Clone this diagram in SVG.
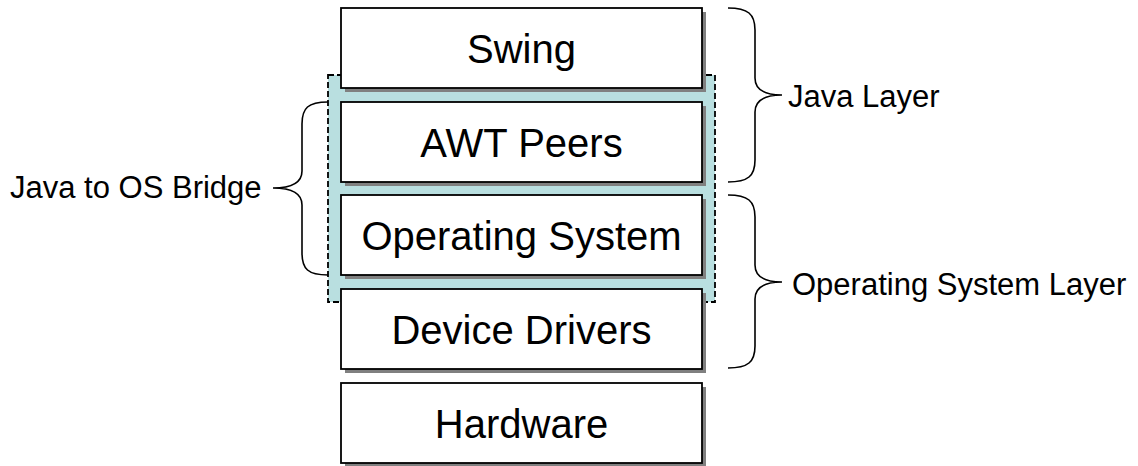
<svg xmlns="http://www.w3.org/2000/svg" width="1138" height="466" viewBox="0 0 1138 466">
<style>
.box{fill:#fff;stroke:#000;stroke-width:1.8}
.shd{fill:#808080}
.bt{font-family:"Liberation Sans",Arial,sans-serif;font-size:40px;text-anchor:middle;fill:#000}
.lt{font-family:"Liberation Sans",Arial,sans-serif;font-size:31px;fill:#000}
.brace{fill:none;stroke:#000;stroke-width:1.6}
</style>
<rect width="1138" height="466" fill="#fff"/>
<g id="bridge-region">
<rect x="328" y="75" width="387" height="227" fill="#b9dfe0" stroke="#000" stroke-width="1.8" stroke-dasharray="6,3"/>
</g>
<g id="swing">
<rect class="shd" x="345" y="12" width="361" height="80"/>
<rect class="box" x="341" y="8" width="361" height="80"/>
<text class="bt" x="521.5" y="63">Swing</text>
</g>
<g id="awt-peers">
<rect class="shd" x="345" y="106" width="361" height="80"/>
<rect class="box" x="341" y="102" width="361" height="80"/>
<text class="bt" x="521.5" y="157">AWT Peers</text>
</g>
<g id="operating-system">
<rect class="shd" x="345" y="199" width="361" height="80"/>
<rect class="box" x="341" y="195" width="361" height="80"/>
<text class="bt" x="521.5" y="250">Operating System</text>
</g>
<g id="device-drivers">
<rect class="shd" x="345" y="293" width="361" height="80"/>
<rect class="box" x="341" y="289" width="361" height="80"/>
<text class="bt" x="521.5" y="344">Device Drivers</text>
</g>
<g id="hardware">
<rect class="shd" x="345" y="387" width="361" height="80"/>
<rect class="box" x="341" y="383" width="361" height="80"/>
<text class="bt" x="521.5" y="438">Hardware</text>
</g>
<g id="connectors">
<path class="brace" d="M728,8 C748,8 755,14 755,30 L755,78 C755,90 765,95 782,95 C765,95 755,100 755,112 L755,160 C755,176 748,182 728,182"/>
<path class="brace" d="M728,195 C748,195 755,201 755,217 L755,265 C755,277 765,282 782,282 C765,282 755,287 755,299 L755,346 C755,362 748,368 728,368"/>
<path class="brace" d="M328,102 C308,102 302,108 302,124 L302,171 C302,183 292,188 273,188 C292,188 302,193 302,205 L302,253 C302,269 308,275 328,275"/>
</g>
<g id="label-java-layer"><text class="lt" x="788" y="107">Java Layer</text></g>
<g id="label-os-layer"><text class="lt" x="792" y="295">Operating System Layer</text></g>
<g id="label-bridge"><text class="lt" x="10" y="198">Java to OS Bridge</text></g>
</svg>
